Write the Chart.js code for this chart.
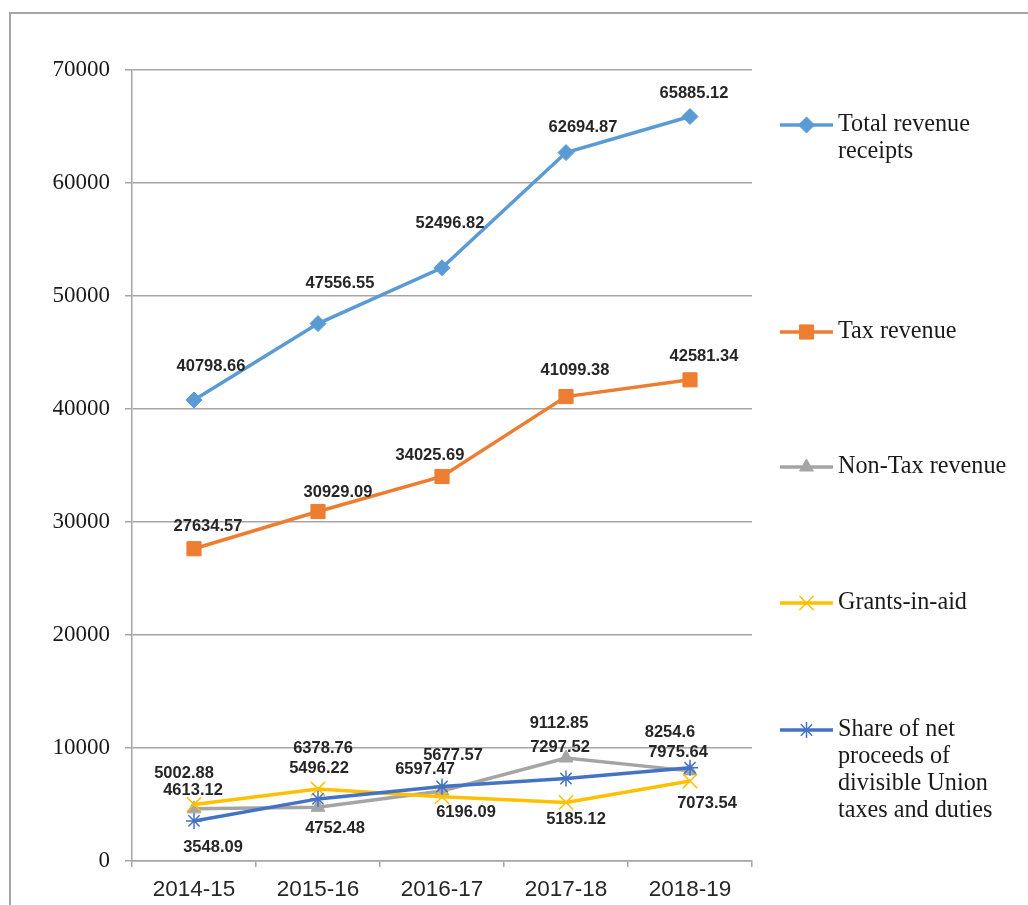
<!DOCTYPE html>
<html>
<head>
<meta charset="utf-8">
<script src="https://cdn.jsdelivr.net/npm/chart.js@4.4.1/dist/chart.umd.min.js"></script>
<style>
  html, body { margin: 0; padding: 0; background: #fff; overflow: hidden; }
  #wrap { position: relative; width: 1028px; height: 905px; }
  #frame {
    position: absolute; left: 9px; top: 12px; width: 1100px; height: 1000px;
    border-top: 2px solid #a6a6a6; border-left: 2px solid #a6a6a6;
  }
  canvas { position: absolute; left: 0; top: 0; }
</style>
</head>
<body>
<div id="wrap">
  <div id="frame"></div>
  <canvas id="chart" width="1028" height="905"></canvas>
</div>
<script>
// data
const years = ["2014-15", "2015-16", "2016-17", "2017-18", "2018-19"];
const totalRevenue = [40798.66, 47556.55, 52496.82, 62694.87, 65885.12];
const taxRevenue = [27634.57, 30929.09, 34025.69, 41099.38, 42581.34];
const nonTaxRevenue = [4613.12, 4752.48, 6196.09, 9112.85, 7975.64];
const grantsInAid = [5002.88, 6378.76, 5677.57, 5185.12, 7073.54];
const unionTaxShare = [3548.09, 5496.22, 6597.47, 7297.52, 8254.6];
const seriesNames = [
  "Total revenue receipts",
  "Tax revenue",
  "Non-Tax revenue",
  "Grants-in-aid",
  "Share of net proceeds of divisible Union taxes and duties",
];
const yTicks = [0, 10000, 20000, 30000, 40000, 50000, 60000, 70000];

// label nudges (px) so the numbers sit where Excel put them
const labelOffsets = [
  [[17, -34], [22, -40], [8, -44], [17, -25], [4, -23]],
  [[14, -22], [20, -19], [-12, -21], [9, -26], [14, -23]],
  [[-1, -18], [17, 21], [24, 21], [-7, -35], [-12, -18]],
  [[-10, -31], [5, -40], [11, -41], [10, 17], [17, 22]],
  [[19, 27], [1, -30], [-17, -17], [-6, -31], [-20, -35]],
];

// legend text wrapping and row positions on the right
const legendLines = [
  ["Total revenue", "receipts"],
  ["Tax revenue"],
  ["Non-Tax revenue"],
  ["Grants-in-aid"],
  ["Share of net", "proceeds of", "divisible Union", "taxes and duties"],
];
const legendRowY = [125, 332, 467, 603, 730];

const makeSeries = (label, data, color, pointStyle, radius, order) => ({
  label,
  data,
  borderColor: color,
  backgroundColor: color,
  borderWidth: 3.5,
  pointStyle,
  pointRadius: radius,
  pointBorderWidth: pointStyle.startsWith("cross") || pointStyle === "star" ? 1.5 : 1,
  pointBorderColor: color,
  pointBackgroundColor: color,
  tension: 0,
  fill: false,
  order,
});

const valueLabels = {
  id: "valueLabels",
  afterDatasetsDraw(chart) {
    const ctx = chart.ctx;
    ctx.save();
    ctx.font = 'bold 16.5px "Liberation Sans", Arial, sans-serif';
    ctx.fillStyle = "#262626";
    ctx.textAlign = "center";
    ctx.textBaseline = "middle";
    chart.data.datasets.forEach((ds, i) => {
      const meta = chart.getDatasetMeta(i);
      meta.data.forEach((pt, j) => {
        const [dx, dy] = labelOffsets[i][j];
        ctx.fillText(String(ds.data[j]), pt.x + dx, pt.y + dy);
      });
    });
    ctx.restore();
  },
};

const sideLegend = {
  id: "sideLegend",
  afterDraw(chart) {
    const ctx = chart.ctx;
    const x0 = 780, x1 = 833, tx = 838;
    ctx.save();
    chart.data.datasets.forEach((ds, i) => {
      const y = legendRowY[i];
      ctx.strokeStyle = ds.borderColor;
      ctx.fillStyle = ds.borderColor;
      ctx.lineWidth = 3.5;
      ctx.beginPath();
      ctx.moveTo(x0, y);
      ctx.lineTo(x1, y);
      ctx.stroke();
      ctx.lineWidth = ds.pointBorderWidth;
      Chart.helpers.drawPoint(ctx, {
        pointStyle: ds.pointStyle,
        radius: ds.pointRadius,
        rotation: 0,
        borderWidth: ds.pointBorderWidth,
      }, (x0 + x1) / 2, y);

      ctx.fillStyle = "#1a1a1a";
      ctx.font = '24.2px "Liberation Serif", "Times New Roman", serif';
      ctx.textAlign = "left";
      ctx.textBaseline = "middle";
      legendLines[i].forEach((line, k) => {
        ctx.fillText(line, tx, y + k * 27);
      });
    });
    ctx.restore();
  },
};

new Chart(document.getElementById("chart"), {
  type: "line",
  data: {
    labels: years,
    datasets: [
      makeSeries(seriesNames[0], totalRevenue, "#5b9bd5", "rectRot", 8, 4),
      makeSeries(seriesNames[1], taxRevenue, "#ed7d31", "rect", 10, 3),
      makeSeries(seriesNames[2], nonTaxRevenue, "#a5a5a5", "triangle", 8, 2),
      makeSeries(seriesNames[3], grantsInAid, "#ffc000", "crossRot", 10, 1),
      makeSeries(seriesNames[4], unionTaxShare, "#4472c4", "star", 8, 0),
    ],
  },
  options: {
    responsive: false,
    animation: false,
    layout: { padding: { top: 70, right: 276, bottom: 0, left: 0 } },
    plugins: {
      legend: { display: false },
      tooltip: { enabled: false },
    },
    scales: {
      x: {
        offset: true,
        grid: {
          offset: true,
          drawOnChartArea: false,
          drawTicks: true,
          tickLength: 6,
          color: "#a6a6a6",
          lineWidth: 1.5,
        },
        border: { color: "#a6a6a6", width: 1.5 },
        ticks: {
          color: "#262626",
          padding: 9,
          font: { family: '"Liberation Sans", Arial, sans-serif', size: 22.5 },
        },
        afterFit: (scale) => { scale.height = 44; },
      },
      y: {
        min: 0,
        max: 70000,
        afterBuildTicks: (scale) => { scale.ticks = yTicks.map((v) => ({ value: v })); },
        grid: { color: "#a6a6a6", lineWidth: 1.5, tickLength: 7 },
        border: { color: "#a6a6a6", width: 1.5 },
        ticks: {
          color: "#1a1a1a",
          padding: 15,
          callback: (v) => String(v),
          font: { family: '"Liberation Serif", "Times New Roman", serif', size: 23 },
        },
        afterFit: (scale) => { scale.width = 132; },
      },
    },
  },
  plugins: [valueLabels, sideLegend],
});
</script>
</body>
</html>
